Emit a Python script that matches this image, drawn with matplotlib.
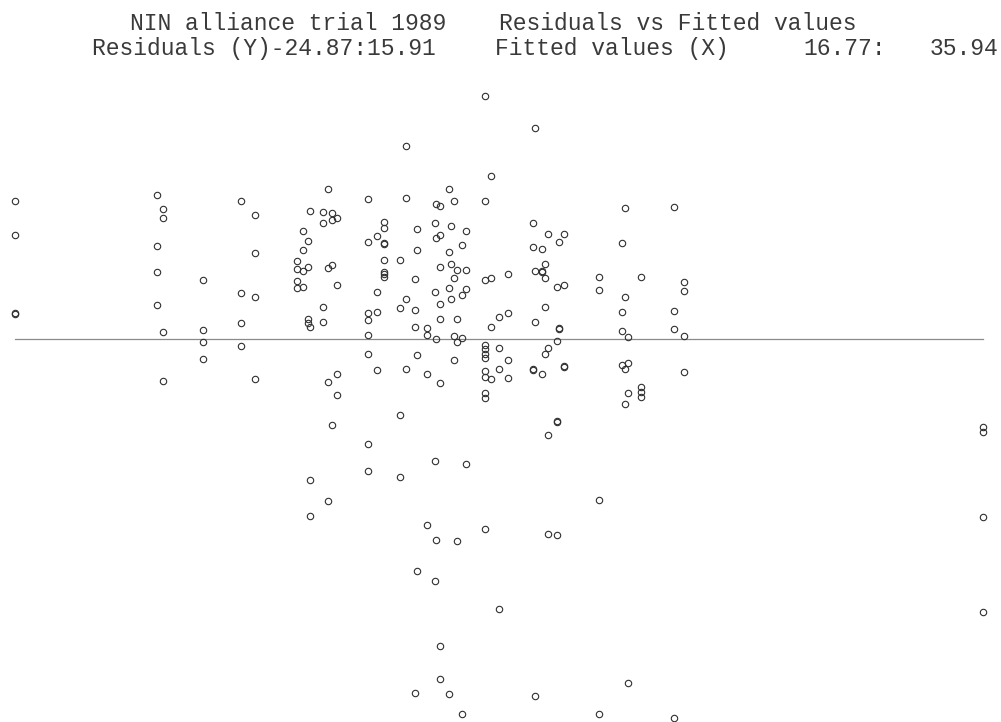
from matplotlib import pyplot as plt
import numpy as np

# title pieces and where they start (x pixel)
title1_parts = ['NIN alliance trial 1989', 'Residuals vs Fitted values']
title1_x = [130, 499]
title2_parts = ['Residuals (Y)-24.87:15.91', 'Fitted values (X)', '16.77:', '35.94']
title2_x = [92, 495, 803, 930]

y_min, y_max = -24.87, 15.91
x_min, x_max = 16.77, 35.94

# fitted value -> residuals at that fitted value
fitted_groups = [16.77, 19.59, 19.71, 20.50, 21.25, 21.52, 22.37, 22.47, 22.57, 22.61,
                 22.88, 22.97, 23.05, 23.16, 23.77, 23.94, 24.09, 24.40, 24.51, 24.70,
                 24.73, 24.93, 25.09, 25.12, 25.19, 25.37, 25.41, 25.46, 25.52, 25.63,
                 25.71, 26.08, 26.21, 26.36, 26.53, 27.04, 27.07, 27.21, 27.28, 27.33,
                 27.51, 27.54, 27.65, 28.35, 28.80, 28.85, 28.92, 29.18, 29.83, 30.03,
                 35.94]
resid_groups = [
    [9.02, 6.77, 1.62, 1.66],
    [9.39, 6.05, 4.39, 2.23],
    [8.50, 7.89, 0.42, -2.79],
    [3.83, 0.59, -0.24, -1.33],
    [9.04, 2.99, 1.01, -0.48],
    [8.12, 5.61, 2.75, -2.64],
    [5.09, 4.59, 3.76, 3.34],
    [7.03, 5.83, 4.43, 3.39],
    [6.40, 4.68, 1.31, 1.05],
    [8.38, 0.79, -9.26, -11.59],
    [8.32, 7.60, 2.10, 1.11],
    [9.83, 4.65, -2.82, -10.65],
    [8.21, 7.77, 4.83, -5.65],
    [7.91, 3.52, -2.29, -3.68],
    [9.13, 6.31, 1.70, 1.22, 0.24, -1.02, -6.92, -8.65],
    [6.73, 3.06, 1.73, -2.05],
    [7.66, 7.27, 6.25, 6.22, 5.14, 4.39, 4.26, 4.02],
    [5.17, 1.99, -5.00, -9.08],
    [12.60, 9.24, 2.60, -2.00],
    [3.89, 1.86, 0.75, -23.23],
    [7.17, 5.81, -1.07, -15.20],
    [0.72, 0.24, -2.29, -12.18],
    [7.60, 3.06, -8.01, -15.87],
    [8.82, 6.58, -0.04, -13.17],
    [8.71, 6.77, 4.72, 2.27, 1.31, -2.90, -20.13, -22.27],
    [9.83, 5.66, 3.32, -23.25],
    [7.38, 4.91, 2.60],
    [9.04, 3.98, 0.18, -1.41],
    [4.48, 1.29, -0.24, -13.25],
    [6.14, 2.84, 0.03, -24.60],
    [7.07, 4.52, 3.28, -8.23],
    [15.91, 9.02, 3.84, -0.41, -0.69, -1.00, -1.28, -2.10, -2.53, -3.58, -3.90, -12.48],
    [10.68, 3.96, 0.75, -2.66],
    [1.42, -0.59, -1.97, -17.70],
    [4.24, 1.66, -1.41, -2.55],
    [7.60, 6.03, -1.97, -2.03],
    [13.82, 4.45, 1.09, -23.40],
    [5.88, 4.39, 4.45, -2.31],
    [4.89, 3.96, 2.08, -1.00],
    [6.86, -0.59, -6.29, -12.81],
    [3.37, -0.13, -5.40, -5.48, -12.84],
    [6.31, 0.66, 0.72],
    [6.88, 3.50, -1.80, -1.86],
    [4.06, 3.21, -10.57, -24.60],
    [6.25, 1.75, 0.52, -1.72],
    [8.56, 2.73, -1.97, -4.28],
    [0.09, -1.61, -3.58, -22.55],
    [4.06, -3.14, -3.50, -3.84],
    [8.63, 1.81, 0.66, -24.87],
    [3.71, 3.10, 0.20, -2.16],
    [-5.76, -6.09, -11.66, -17.92],
]

fitted = []
resid = []
for f, rs in zip(fitted_groups, resid_groups):
    for r in rs:
        fitted.append(f)
        resid.append(r)

fig = plt.figure(figsize=(10.01, 7.22), dpi=100)
ax = fig.add_axes([14.7 / 1001, 3.7 / 722, 968 / 1001, 622.6 / 722])
ax.set_xlim(x_min, x_max)
ax.set_ylim(y_min, y_max)
ax.axis('off')

ax.plot([x_min, x_max], [0, 0], color='#8a8a8a', linewidth=0.9, clip_on=False)
ax.plot(fitted, resid, linestyle='none', marker='o', markersize=4.6,
        markerfacecolor='none', markeredgecolor='#303030', markeredgewidth=0.8,
        clip_on=False)

for txt, x in zip(title1_parts, title1_x):
    fig.text(x / 1001, 1 - 30 / 722, txt, family='Liberation Mono', fontsize=16.6,
             ha='left', va='baseline', color='#3a3a3a')
for txt, x in zip(title2_parts, title2_x):
    fig.text(x / 1001, 1 - 55 / 722, txt, family='Liberation Mono', fontsize=16.6,
             ha='left', va='baseline', color='#3a3a3a')

plt.savefig('out.png', dpi=100)
